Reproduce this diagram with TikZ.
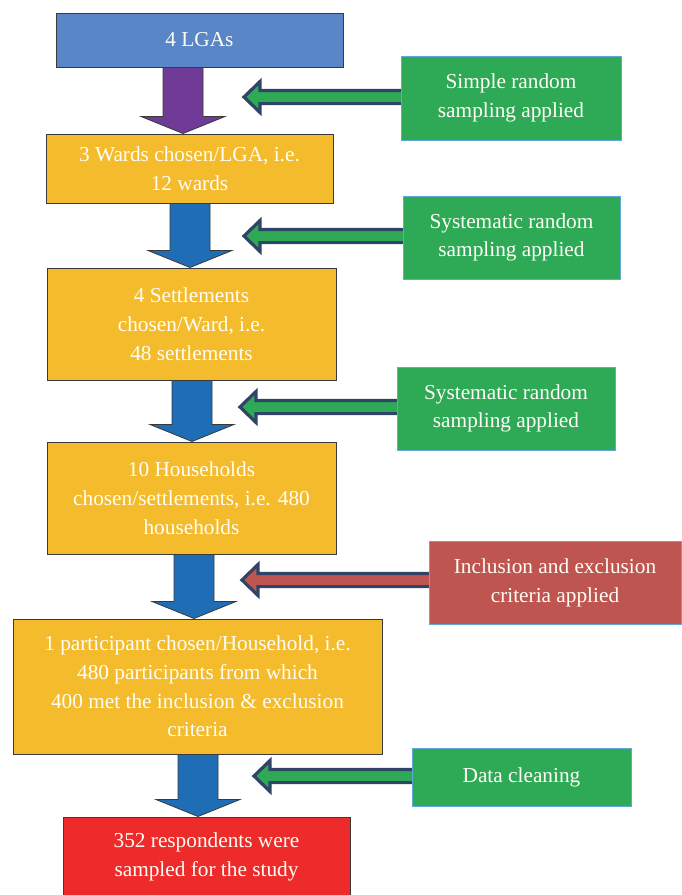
\documentclass[tikz,border=0pt]{standalone}
\usepackage{fontspec}
\setmainfont{Liberation Serif}
\usetikzlibrary{calc,backgrounds}
\definecolor{lgablue}{HTML}{5886C6}
\definecolor{boxorange}{HTML}{F4BC2C}
\definecolor{boxgreen}{HTML}{2EAA57}
\definecolor{boxred}{HTML}{BF5551}
\definecolor{brightred}{HTML}{EE2B2B}
\definecolor{arrpurple}{HTML}{6F3B97}
\definecolor{arrblue}{HTML}{1F6DB5}
\definecolor{navy}{HTML}{2F4466}
\definecolor{edgeblue}{HTML}{5FA8D8}
\definecolor{edgedark}{HTML}{3A3A3A}
\definecolor{textwhite}{HTML}{FFFDF5}
\tikzset{
  boxfont/.style={font=\fontsize{21.3}{28.8}\selectfont},
  mainbox/.style={draw=edgedark, line width=1pt, text=textwhite, align=center, boxfont, inner sep=0pt},
  sidebox/.style={draw=edgeblue, line width=0.8pt, fill=boxgreen, text=textwhite, align=center, boxfont, inner sep=0pt},
  downarr/.style={draw=edgedark, line width=0.8pt, line join=miter},
  sidearr/.style={draw=navy, line width=3.2pt, line join=miter},
}
\newcommand\dnarrow[4]{% colour, x centre, upper node, lower node
  \path[downarr, fill=#1] let \p1=(#3.south), \p2=(#4.north) in
    ({#2pt-20pt},\y1) -- ({#2pt+20pt},\y1) -- ({#2pt+20pt},\y2+17pt) -- ({#2pt+42pt},\y2+17pt)
    -- ({#2pt},\y2) -- ({#2pt-42pt},\y2+17pt) -- ({#2pt-20pt},\y2+17pt) -- cycle;}
\newcommand\lfarrow[4]{% colour, right node, tip x, y
  \path[sidearr, fill=#1] let \p1=(#2.west) in
    ({\x1+4pt},{-#4pt+6.6pt}) -- ({#3pt+19pt},{-#4pt+6.6pt}) -- ({#3pt+19pt},{-#4pt+15.5pt})
    -- ({#3pt+3pt},{-#4pt}) -- ({#3pt+19pt},{-#4pt-15.5pt}) -- ({#3pt+19pt},{-#4pt-6.6pt})
    -- ({\x1+4pt},{-#4pt-6.6pt}) -- cycle;}
\begin{document}
\begin{tikzpicture}[x=1pt,y=-1pt]
\useasboundingbox (0,0) rectangle (681,895);
% main column
\node[mainbox, fill=lgablue, minimum width=287pt, minimum height=54pt] (lga) at (199.5,40) {4 LGAs};
\node[mainbox, fill=boxorange, minimum width=287pt, minimum height=69pt] (wards) at (189.5,168.5) {3 Wards chosen/LGA, i.e.\\12 wards};
\node[mainbox, fill=boxorange, minimum width=289pt, minimum height=112pt] (settle) at (191.5,324) {4 Settlements\\chosen/Ward, i.e.\\48 settlements};
\node[mainbox, fill=boxorange, minimum width=289pt, minimum height=112pt] (house) at (191.5,498) {10 Households\\chosen/settlements, i.e. 480\\households};
\node[mainbox, fill=boxorange, minimum width=369pt, minimum height=135pt] (part) at (197.5,686.5) {1 participant chosen/Household, i.e.\\480 participants from which\\400 met the inclusion \& exclusion\\criteria};
\node[mainbox, fill=brightred, minimum width=287pt, minimum height=80pt] (resp) at (206.5,857) {352 respondents were\\sampled for the study};
% side boxes
\node[sidebox, minimum width=220pt, minimum height=84pt] (s1) at (511,98) {Simple random\\sampling applied};
\node[sidebox, minimum width=217pt, minimum height=83pt] (s2) at (511.5,237.5) {Systematic random\\sampling applied};
\node[sidebox, minimum width=218pt, minimum height=83pt] (s3) at (506,408.5) {Systematic random\\sampling applied};
\node[sidebox, fill=boxred, minimum width=252pt, minimum height=83pt] (s4) at (555,582.5) {Inclusion and exclusion\\criteria applied};
\node[sidebox, minimum width=219pt, minimum height=58pt] (s5) at (521.5,777) {Data cleaning};
% arrows
\begin{scope}[on background layer]
\dnarrow{arrpurple}{183}{lga}{wards}
\dnarrow{arrblue}{190}{wards}{settle}
\dnarrow{arrblue}{192}{settle}{house}
\dnarrow{arrblue}{194}{house}{part}
\dnarrow{arrblue}{198}{part}{resp}
\lfarrow{boxgreen}{s1}{241}{97}
\lfarrow{boxgreen}{s2}{241}{236}
\lfarrow{boxgreen}{s3}{237}{407}
\lfarrow{boxred}{s4}{239}{580}
\lfarrow{boxgreen}{s5}{251}{776}
\end{scope}
\end{tikzpicture}
\end{document}
